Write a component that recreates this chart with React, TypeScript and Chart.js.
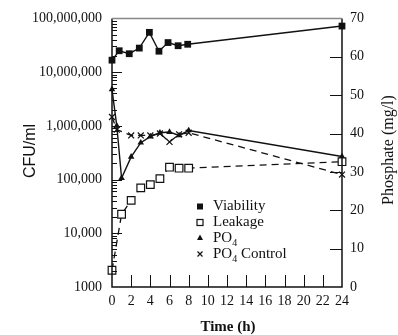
import { useEffect, useRef } from "react";
import { Chart, registerables } from "chart.js";

Chart.register(...registerables);

// ---- data ----
const viabilityTimes = [0, 0.75, 1.8, 2.85, 3.9, 4.9, 5.85, 6.9, 7.9, 24];
const viabilityCfu = [1.67e7, 2.5e7, 2.2e7, 2.8e7, 5.5e7, 2.45e7, 3.55e7, 3.1e7, 3.3e7, 7.2e7];

const leakageTimes = [0, 1, 2, 3, 4, 5, 6, 7, 8, 24];
const leakageCfu = [2050, 22600, 41000, 70000, 80500, 104000, 170000, 163000, 163000, 215000];

const po4Times = [0, 0.5, 1, 2, 3, 4, 5, 6, 7, 8, 24];
const po4Values = [51.5, 42, 28.4, 33.9, 37.6, 39.2, 40.2, 40.4, 39.5, 40.8, 34.0];

const controlTimes = [0, 0.5, 2, 3, 4, 5, 6, 7, 8, 24];
const controlValues = [44.3, 41, 39.5, 39.5, 39.5, 40, 37.8, 39.8, 40.2, 29.3];

const timeTicks = [0, 2, 4, 6, 8, 10, 12, 14, 16, 18, 20, 22, 24];
const cfuTicks = [1000, 10000, 100000, 1000000, 10000000, 100000000];
const cfuTickLabels = ["1000", "10,000", "100,000", "1,000,000", "10,000,000", "100,000,000"];
const phosphateTicks = [0, 10, 20, 30, 40, 50, 60, 70];

const legendLabels = ["Viability", "Leakage", "PO", "PO"];

const SERIF = '"Liberation Serif", "DejaVu Serif", serif';
const SANS = '"Liberation Sans", Arial, sans-serif';

const toPoints = (xs: number[], ys: number[]) => xs.map((x, i) => ({ x, y: ys[i] }));

const decorPlugin = {
  id: "decor",
  afterDraw(chart: any) {
    const { ctx, chartArea: a, scales } = chart;
    const xs = scales.x;
    const ys = scales.y;
    const y2 = scales.y2;
    ctx.save();
    // frame
    ctx.strokeStyle = "#111";
    ctx.lineWidth = 1.5;
    ctx.beginPath();
    ctx.moveTo(a.left, a.top);
    ctx.lineTo(a.left, a.bottom);
    ctx.lineTo(a.right, a.bottom);
    ctx.lineTo(a.right, a.top);
    ctx.stroke();
    ctx.strokeStyle = "#888";
    ctx.lineWidth = 1.5;
    ctx.beginPath();
    ctx.moveTo(a.left, a.top);
    ctx.lineTo(a.right, a.top);
    ctx.stroke();

    // inward ticks
    ctx.strokeStyle = "#111";
    ctx.lineWidth = 1;
    ctx.beginPath();
    for (let d = 0; d < cfuTicks.length; d++) {
      const dec = cfuTicks[d];
      const py = Math.round(ys.getPixelForValue(dec)) + 0.5;
      if (d > 0 && d < cfuTicks.length - 1) {
        ctx.moveTo(a.left, py);
        ctx.lineTo(a.left + 10, py);
      }
      if (d < cfuTicks.length - 1) {
        for (let m = 2; m <= 9; m++) {
          const my = Math.round(ys.getPixelForValue(dec * m)) + 0.5;
          ctx.moveTo(a.left, my);
          ctx.lineTo(a.left + 5, my);
        }
      }
    }
    for (const v of phosphateTicks) {
      if (v === 0 || v === 70) continue;
      const py = Math.round(y2.getPixelForValue(v)) + 0.5;
      ctx.moveTo(a.right, py);
      ctx.lineTo(a.right - 12, py);
    }
    for (const t of timeTicks) {
      if (t === 0 || t === 24) continue;
      const px = Math.round(xs.getPixelForValue(t)) + 0.5;
      ctx.moveTo(px, a.bottom);
      ctx.lineTo(px, a.bottom - 12);
    }
    ctx.stroke();

    // axis titles
    ctx.fillStyle = "#111";
    ctx.textAlign = "center";
    ctx.textBaseline = "middle";
    ctx.save();
    ctx.translate(31, 151);
    ctx.rotate(-Math.PI / 2);
    ctx.font = `16px ${SANS}`;
    ctx.fillText("CFU/ml", 0, 0);
    ctx.restore();

    ctx.save();
    ctx.translate(389, 150);
    ctx.rotate(-Math.PI / 2);
    ctx.font = `16px ${SERIF}`;
    ctx.fillText("Phosphate (mg/l)", 0, 0);
    ctx.restore();

    ctx.font = `bold 15px ${SERIF}`;
    ctx.fillText("Time (h)", 228, 327);

    // legend
    const lx = 200;
    const tx = 213;
    const rows = [206.5, 222.5, 238, 254];
    ctx.textAlign = "left";
    ctx.font = `15px ${SERIF}`;
    // markers
    ctx.fillStyle = "#111";
    ctx.fillRect(lx - 3, rows[0] - 3, 6, 6);
    ctx.lineWidth = 1.2;
    ctx.strokeRect(lx - 3, rows[1] - 3, 6, 6);
    ctx.beginPath();
    ctx.moveTo(lx, rows[2] - 3.5);
    ctx.lineTo(lx + 3, rows[2] + 2);
    ctx.lineTo(lx - 3, rows[2] + 2);
    ctx.closePath();
    ctx.fill();
    ctx.beginPath();
    ctx.moveTo(lx - 2.5, rows[3] - 2.5);
    ctx.lineTo(lx + 2.5, rows[3] + 2.5);
    ctx.moveTo(lx + 2.5, rows[3] - 2.5);
    ctx.lineTo(lx - 2.5, rows[3] + 2.5);
    ctx.stroke();
    // texts
    ctx.fillText(legendLabels[0], tx, rows[0]);
    ctx.fillText(legendLabels[1], tx, rows[1]);
    for (const r of [2, 3]) {
      ctx.font = `15px ${SERIF}`;
      ctx.fillText(legendLabels[r], tx, rows[r]);
      const w = ctx.measureText(legendLabels[r]).width;
      ctx.font = `10px ${SERIF}`;
      ctx.fillText("4", tx + w, rows[r] + 5);
      if (r === 3) {
        const w4 = ctx.measureText("4").width;
        ctx.font = `15px ${SERIF}`;
        ctx.fillText(" Control", tx + w + w4, rows[r]);
      }
    }
    ctx.restore();
  },
};

export default function App() {
  const canvasRef = useRef<HTMLCanvasElement | null>(null);

  useEffect(() => {
    document.body.style.margin = "0";
    const canvas = canvasRef.current;
    if (!canvas) return;
    const tickFont = { family: SERIF, size: 14 };
    const chart = new Chart(canvas, {
      type: "scatter",
      data: {
        datasets: [
          {
            label: "Viability",
            data: toPoints(viabilityTimes, viabilityCfu),
            yAxisID: "y",
            showLine: true,
            borderColor: "#111",
            borderWidth: 1.4,
            backgroundColor: "#111",
            pointStyle: "rect",
            pointRadius: 4.8,
            pointBorderWidth: 0,
            clip: false,
          } as any,
          {
            label: "Leakage",
            data: toPoints(leakageTimes, leakageCfu),
            yAxisID: "y",
            showLine: true,
            borderColor: "#111",
            borderWidth: 1.3,
            borderDash: [7, 5],
            backgroundColor: "#fff",
            pointBorderColor: "#111",
            pointStyle: "rect",
            pointRadius: 5.4,
            pointBorderWidth: 1.2,
            clip: false,
          } as any,
          {
            label: "PO4",
            data: toPoints(po4Times, po4Values),
            yAxisID: "y2",
            showLine: true,
            borderColor: "#111",
            borderWidth: 1.4,
            backgroundColor: "#111",
            pointStyle: "triangle",
            pointRadius: 3.8,
            pointBorderWidth: 0,
            clip: false,
          } as any,
          {
            label: "PO4 Control",
            data: toPoints(controlTimes, controlValues),
            yAxisID: "y2",
            showLine: true,
            borderColor: "#111",
            borderWidth: 1.3,
            borderDash: [7, 5],
            backgroundColor: "#111",
            pointBorderColor: "#111",
            pointStyle: "crossRot",
            pointRadius: 4.2,
            pointBorderWidth: 1.2,
            clip: false,
          } as any,
        ],
      },
      options: {
        responsive: false,
        animation: false,
        devicePixelRatio: 1,
        layout: { padding: { top: 15, left: 0, right: 0, bottom: 0 } },
        plugins: {
          legend: { display: false },
          tooltip: { enabled: false },
        },
        scales: {
          x: {
            type: "linear",
            min: 0,
            max: 24,
            afterBuildTicks: (s: any) => {
              s.ticks = timeTicks.map((v) => ({ value: v }));
            },
            afterFit: (s: any) => {
              s.height = 48;
            },
            ticks: { font: tickFont, color: "#111", padding: 6, maxRotation: 0, autoSkip: false },
            grid: { display: false, drawTicks: false },
            border: { display: false },
          },
          y: {
            type: "logarithmic",
            position: "left",
            min: 1000,
            max: 100000000,
            afterBuildTicks: (s: any) => {
              s.ticks = cfuTicks.map((v) => ({ value: v }));
            },
            afterFit: (s: any) => {
              s.width = 112;
            },
            ticks: {
              font: tickFont,
              color: "#111",
              padding: 10,
              autoSkip: false,
              callback: (v: any) => {
                const i = cfuTicks.indexOf(Number(v));
                return i >= 0 ? cfuTickLabels[i] : "";
              },
            },
            grid: { display: false, drawTicks: false },
            border: { display: false },
          },
          y2: {
            type: "linear",
            position: "right",
            min: 0,
            max: 70,
            afterBuildTicks: (s: any) => {
              s.ticks = phosphateTicks.map((v) => ({ value: v }));
            },
            afterFit: (s: any) => {
              s.width = 56;
            },
            ticks: { font: tickFont, color: "#111", padding: 8, autoSkip: false },
            grid: { display: false, drawTicks: false },
            border: { display: false },
          },
        },
      },
      plugins: [decorPlugin],
    } as any);
    return () => chart.destroy();
  }, []);

  return (
    <canvas
      ref={canvasRef}
      width={398}
      height={335}
      style={{ display: "block", width: 398, height: 335 }}
    />
  );
}
